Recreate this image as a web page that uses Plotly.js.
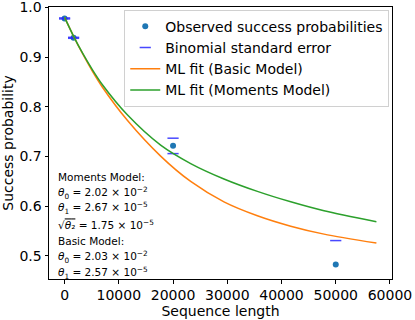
<!DOCTYPE html>
<html>
<head>
<meta charset="utf-8">
<script src="https://cdn.plot.ly/plotly-3.0.1.min.js"></script>
<style>
  html, body { margin: 0; padding: 0; background: #fff; }
  #viz { width: 415px; height: 320px; }
</style>
</head>
<body>
<div id="viz"></div>
<script>
// observed points
const obsLength = [0, 1660, 20000, 50000];
const obsProb = [0.978, 0.939, 0.722, 0.483];

// binomial standard error dashes
const errLength = [0, 0, 1660, 1660, 20000, 20000, 50000];
const errProb = [0.979, 0.977, 0.940, 0.938, 0.737, 0.706, 0.531];

// fitted curves
const fitLength = [0, 1480, 3320, 5170, 7010, 11570, 17710, 23250, 29390, 35550, 41700, 47840, 57500];
const basicFit = [0.980, 0.946, 0.907, 0.871, 0.839, 0.773, 0.701, 0.650, 0.609, 0.581, 0.560, 0.544, 0.526];
const momentsFit = [0.980, 0.946, 0.908, 0.874, 0.844, 0.784, 0.723, 0.686, 0.655, 0.630, 0.609, 0.591, 0.569];

const xTicks = [0, 10000, 20000, 30000, 40000, 50000, 60000];
const yTicks = [0.5, 0.6, 0.7, 0.8, 0.9, 1.0];

const noteLines = [
  'Moments Model:',
  '<i>θ</i><sub>0</sub> = 2.02 × 10<sup>−2</sup>',
  '<i>θ</i><sub>1</sub> = 2.67 × 10<sup>−5</sup>',
  '√<span style="text-decoration:overline"><i>θ</i>₂</span> = 1.75 × 10<sup>−5</sup>',
  'Basic Model:',
  '<i>θ</i><sub>0</sub> = 2.03 × 10<sup>−2</sup>',
  '<i>θ</i><sub>1</sub> = 2.57 × 10<sup>−5</sup>'
];

const font = 'DejaVu Sans, sans-serif';

const data = [
  {
    x: obsLength, y: obsProb, type: 'scatter', mode: 'markers',
    name: 'Observed success probabilities',
    marker: { color: '#1f77b4', size: 6 }
  },
  {
    x: errLength, y: errProb, type: 'scatter', mode: 'markers',
    name: 'Binomial standard error',
    marker: { symbol: 'line-ew', size: 8, line: { color: 'rgba(40,40,255,0.85)', width: 1.5 } }
  },
  {
    x: fitLength, y: basicFit, type: 'scatter', mode: 'lines',
    name: 'ML fit (Basic Model)',
    line: { color: '#ff7f0e', width: 1.5, shape: 'spline', smoothing: 0.8 }
  },
  {
    x: fitLength, y: momentsFit, type: 'scatter', mode: 'lines',
    name: 'ML fit (Moments Model)',
    line: { color: '#2ca02c', width: 1.5, shape: 'spline', smoothing: 0.8 }
  }
];

// annotation lines, pixel rows converted to paper coords
const plotTop = 7, plotBottom = 279;
const rowPx = [177, 192.5, 208, 224, 241, 257, 273];
const annotations = noteLines.map((t, i) => ({
  text: t, xref: 'paper', yref: 'paper',
  x: 0.02, y: (plotBottom - rowPx[i]) / (plotBottom - plotTop),
  xanchor: 'left', yanchor: 'middle', showarrow: false,
  font: { family: font, size: 10.5, color: '#000' }
}));

const layout = {
  width: 415, height: 320,
  margin: { l: 49, r: 23, t: 7, b: 41 },
  paper_bgcolor: '#fff', plot_bgcolor: '#fff',
  font: { family: font, size: 14, color: '#000' },
  showlegend: true,
  legend: {
    x: 0.992, y: 0.99, xanchor: 'right', yanchor: 'top',
    bgcolor: 'rgba(255,255,255,0.8)', bordercolor: '#d0d0d0', borderwidth: 1,
    font: { family: font, size: 14 }
  },
  xaxis: {
    range: [-2875, 60375], tickvals: xTicks, ticktext: xTicks.map(String),
    showgrid: false, zeroline: false, showline: true, mirror: true,
    linecolor: '#000', linewidth: 1, ticks: 'outside', ticklen: 3.5, tickcolor: '#000',
    tickfont: { family: font, size: 14 }, ticklabeloverflow: 'allow',
    title: { text: 'Sequence length', font: { family: font, size: 14 }, standoff: 2 }
  },
  yaxis: {
    range: [0.4537, 1.001], tickvals: yTicks, ticktext: yTicks.map(v => v.toFixed(1)),
    showgrid: false, zeroline: false, showline: true, mirror: true,
    linecolor: '#000', linewidth: 1, ticks: 'outside', ticklen: 3.5, tickcolor: '#000',
    tickfont: { family: font, size: 14 }, ticklabeloverflow: 'allow',
    title: { text: 'Success probability', font: { family: font, size: 14 }, standoff: 4 }
  },
  annotations: annotations
};

Plotly.newPlot('viz', data, layout, { displayModeBar: false, staticPlot: true });
</script>
</body>
</html>
